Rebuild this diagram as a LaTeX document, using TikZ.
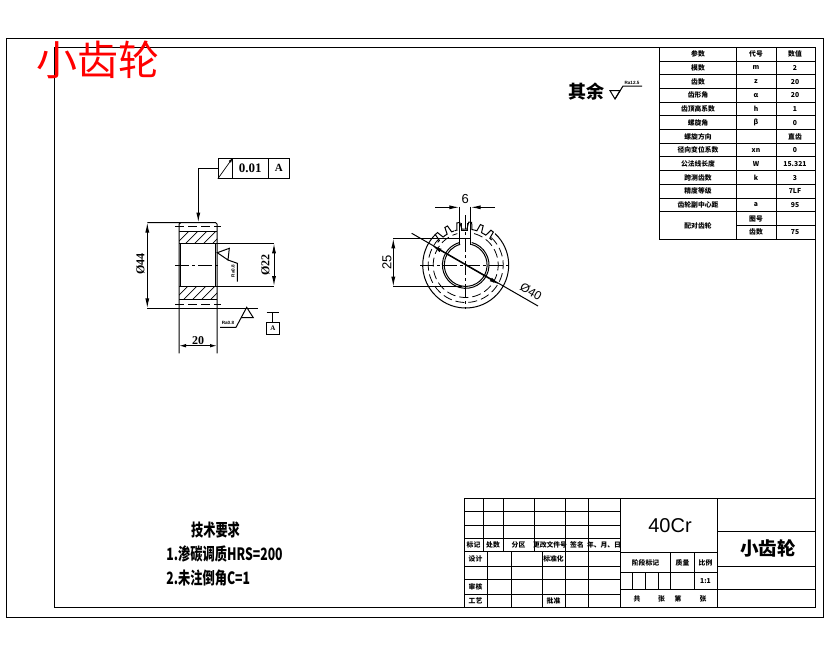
\documentclass[tikz,border=0pt]{standalone}
\usepackage{fontspec}
\setmainfont{Liberation Serif}
\newfontfamily\cjk{Noto Sans CJK SC}
\newfontfamily\arial{Liberation Sans}
\usetikzlibrary{arrows.meta,calc}

\begin{document}
\begin{tikzpicture}[x=1pt,y=-1pt,line width=1pt,
				cell/.style={font=\cjk\bfseries\fontsize{6.8}{7}\selectfont, inner sep=0pt},
				block/.style={font=\cjk\bfseries\fontsize{6.8}{7}\selectfont, inner sep=0pt},
				note/.style={font=\cjk\bfseries\fontsize{17}{18}\selectfont, inner sep=0pt, anchor=west, xscale=.72, transform shape},
				dim/.style={font=\bfseries\fontsize{12}{13}\selectfont, inner sep=0pt},
				dimsans/.style={font=\arial\fontsize{13}{14}\selectfont, inner sep=0pt},
				rough/.style={font=\arial\bfseries\fontsize{4.6}{5}\selectfont, inner sep=0pt},
				tip/.style={-{Latex[length=10pt,width=4pt]}},
				tips/.style={{Latex[length=10pt,width=4pt]}-{Latex[length=10pt,width=4pt]}},
				center line/.style={dash pattern=on 14pt off 3pt on 3pt off 3pt, line width=.8pt},
				hidden/.style={dash pattern=on 9pt off 4pt, line width=.8pt}
			]
			\useasboundingbox (0,0) rectangle (830,654);
			\fill[white] (0,0) rectangle (830,654);
			
			\coordinate (c_gear) at (465.7,265);
			
			\draw (6,38.5) rectangle (823.5,617);
			\draw (54.3,47.3) rectangle (815,607.3);
			
			\node[font=\cjk\fontsize{41}{43}\selectfont, text=red, inner sep=0pt] (t_title) at (97.5,60) {小齿轮};
			
			\draw (659.5,47.3) rectangle (815,239.3);
			\foreach \i in {1,...,12} \draw (659.5,{47.3+13.71*\i}) -- (815,{47.3+13.71*\i});
			\draw (736.7,{47.3+13.71*13}) -- (815,{47.3+13.71*13});
			\draw (736.7,47.3) -- (736.7,239.3);
			\draw (776,47.3) -- (776,239.3);
			\foreach \i/\a/\b/\c in {0/参数/代号/数值,1/模数/m/2,2/齿数/z/20,3/齿形角/α/20,4/齿顶高系数/h/1,5/螺旋角/β/0,6/螺旋方向//直齿,7/径向变位系数/xn/0,8/公法线长度/W/15.321,9/跨测齿数/k/3,10/精度等级//7LF,11/齿轮副中心距/a/95}
				{
				\node[cell] (a_\i) at (698,{47.3+13.71*(\i+.5)}) {\a};
				\node[cell] (b_\i) at (756,{47.3+13.71*(\i+.5)}) {\b};
				\node[cell] (v_\i) at (795,{47.3+13.71*(\i+.5)}) {\c};
				}
			\node[cell] (a_12) at (698,{47.3+13.71*13}) {配对齿轮};
			\node[cell] (b_12) at (756,{47.3+13.71*12.5}) {图号};
			\node[cell] (b_13) at (756,{47.3+13.71*13.5}) {齿数};
			\node[cell] (v_13) at (795,{47.3+13.71*13.5}) {75};
			
			\node[font=\cjk\bfseries\fontsize{18}{19}\selectfont, inner sep=0pt] (t_rest) at (586,92) {其余};
			\draw (610,90.7) -- (620,90.7) -- (615,99) -- cycle;
			\draw (615,99) -- (623,86) -- (642,86);
			\node[rough] (t_rest_ra) at (632,82.5) {Ra12.5};
			
			\node[draw, minimum width=14pt, minimum height=20pt, inner sep=0pt] (f_sym) at (225.3,168.3) {};
			\node[draw, minimum width=36pt, minimum height=20pt, inner sep=0pt, font=\bfseries\fontsize{13}{14}\selectfont] (f_val) at (250.3,168.3) {0.01};
			\node[draw, minimum width=21pt, minimum height=20pt, inner sep=0pt, font=\bfseries\fontsize{11}{12}\selectfont] (f_dat) at (278.8,168.3) {A};
			\draw[-{Latex[length=5pt,width=3pt]}, line width=.7pt] (f_sym.south west) -- (f_sym.north east);
			\coordinate (f_top) at (198.3,222.5);
			\draw[tip] (f_sym.west) -| (f_top);
			
			\draw (147.3,222.5) -- (215.5,222.5) -- (217,224) -- (217,353.3);
			\draw (181,222.5) -- (179,224) -- (179,353.3);
			\draw (147.3,308.3) -- (258,308.3);
			\draw (179,231.7) -- (217,231.7);
			\draw (179,243.3) -- (274,243.3);
			\draw (179,286) -- (274,286);
			\draw (179,299) -- (217,299);
			\draw (180.7,243.3) -- (180.7,286);
			\draw (215.3,243.3) -- (215.3,286);
			\draw[hidden] (175,226.7) -- (221,226.7);
			\draw[hidden] (175,304.3) -- (221,304.3);
			\draw[center line] (175,265) -- (221,265);
			\begin{scope}[line width=.7pt]
				\clip (179,231.7) rectangle (217,243.3);
				\foreach \i in {0,...,6} \draw ({176+9*\i},244) -- ({190+9*\i},230);
			\end{scope}
			\begin{scope}[line width=.7pt]
				\clip (179,286) rectangle (217,299);
				\foreach \i in {0,...,6} \draw ({174+9*\i},300) -- ({190+9*\i},284);
			\end{scope}
			
			\coordinate (d44_a) at (147.3,222.5);
			\coordinate (d44_b) at (147.3,308.3);
			\draw[tips] (d44_a) -- (d44_b);
			\node[dim, rotate=90] (t_d44) at (140.5,264) {Ø44};
			\coordinate (d22_a) at (274,243.3);
			\coordinate (d22_b) at (274,286);
			\draw[tips] (d22_a) -- (d22_b);
			\node[dim, rotate=90] (t_d22) at (265.5,265) {Ø22};
			\coordinate (d20_a) at (179,345.7);
			\coordinate (d20_b) at (217,345.7);
			\draw[{Latex[length=7pt,width=3.5pt]}-{Latex[length=7pt,width=3.5pt]}] (d20_a) -- (d20_b);
			\node[dim] (t_d20) at (198,340.5) {20};
			
			\draw (217.3,252.7) -- (229.3,248.3) -- (228,260) -- cycle;
			\draw (228,260) -- (237.3,263.3) -- (237.3,281.7);
			\node[rough, rotate=90] (t_bore_ra) at (233,271) {Ra0.8};
			
			\draw (220,327.3) -- (236,327.3) -- (246.7,307.3) -- (253.3,317.7) -- (241.7,317.7);
			\node[rough] (t_side_ra) at (228,322.5) {Ra0.8};
			
			\node[draw, minimum width=12.5pt, minimum height=11.5pt, inner sep=0pt, font=\bfseries\fontsize{7}{7}\selectfont] (datum) at (272.8,328.3) {A};
			\draw (266.7,312.3) -- (279,312.3);
			\coordinate (datum_top) at (272.8,312.3);
			\draw (datum_top) -- (datum.north);
			
			\draw[center line] (420,265) -- (511,265);
			\draw[center line] (465.7,215) -- (465.7,309);
			\draw (c_gear) ++(47:43pt) arc[start angle=47, end angle=-225, radius=43pt];
			\draw[hidden] (c_gear) ++(47:37.5pt) arc[start angle=47, end angle=-225, radius=37.5pt];
			\draw[hidden] (c_gear) ++(75:32.5pt) arc[start angle=75, end angle=-255, radius=32.5pt];
			\foreach \a in {52,68,84,100,117,133}
				\draw ($(c_gear)+(\a+8:36pt)$) -- ($(c_gear)+(\a+4:36pt)$) -- ($(c_gear)+(\a+2:43pt)$) -- ($(c_gear)+(\a-2:43pt)$) -- ($(c_gear)+(\a-4:36pt)$) -- ($(c_gear)+(\a-8:36pt)$);
			\draw (c_gear) ++(75:23.3pt) arc[start angle=75, end angle=-255, radius=23.3pt];
			\draw (c_gear) ++(75:21.4pt) arc[start angle=75, end angle=-255, radius=21.4pt];
			\draw (459.3,206.7) -- (459.3,245);
			\draw (470.7,206.7) -- (470.7,245);
			\draw (393.3,238.3) -- (470.7,238.3);
			\draw (393.3,286.7) -- (462,286.7);
			\draw (461.7,223) -- (461.7,230) -- (467.3,230) -- (467.3,223);
			
			\coordinate (d6_a) at (459.3,207.3);
			\coordinate (d6_b) at (470.7,207.3);
			\draw[tip] (435,207.3) -- (d6_a);
			\draw[tip] (495,207.3) -- (d6_b);
			\node[dimsans] (t_d6) at (465.3,199.5) {6};
			\coordinate (d25_a) at (393.3,238.3);
			\coordinate (d25_b) at (393.3,286.7);
			\draw[tips] (d25_a) -- (d25_b);
			\node[dimsans, rotate=90] (t_d25) at (387,262.5) {25};
			\coordinate (d40_a) at (431.9,245.5);
			\coordinate (d40_b) at (499.5,284.5);
			\draw (411.7,233.3) -- (538,306);
			\draw[tips] (d40_a) -- (d40_b);
			\node[font=\arial\fontsize{12}{13}\selectfont, inner sep=0pt, rotate=-30] (t_d40) at (531,291.5) {Ø40};
			
			\node[note, anchor=center] (t_tech) at (215.5,530) {技术要求};
			\node[note] (t_req_1) at (166,554) {1.渗碳调质HRS=200};
			\node[note] (t_req_2) at (166,578) {2.未注倒角C=1};
			
			\draw (464,498.3) -- (815,498.3);
			\foreach \y in {511.7,525,538.3,551.7,566.7,579.3,594} \draw (464,\y) -- (620,\y);
			\draw (464,498.3) -- (464,607.3);
			\foreach \x in {483.3,503.3,534.3,565.3,588.3} \draw (\x,498.3) -- (\x,551.7);
			\foreach \x in {487.3,511.7,542.3,565.3,588.3} \draw (\x,551.7) -- (\x,607.3);
			\draw (620,498.3) -- (620,607.3);
			\draw (717.3,498.3) -- (717.3,607.3);
			\draw (717.3,531.3) -- (815,531.3);
			\draw (620,552.3) -- (717.3,552.3);
			\draw (717.3,566.3) -- (815,566.3);
			\draw (620,572.3) -- (717.3,572.3);
			\draw (620,589.3) -- (815,589.3);
			\foreach \x in {632.3,645.7,658.3} \draw (\x,572.3) -- (\x,589.3);
			\draw (670.7,552.3) -- (670.7,589.3);
			\draw (694.3,552.3) -- (694.3,589.3);
			
			\foreach \x/\s in {473.5/标记,493/处数,518.5/分区,550/更改文件号,577/签名,604/年、月、日}
				\node[block] (h_\s) at (\x,545) {\s};
			\node[block] (r_design) at (475.5,559) {设计};
			\node[block] (r_std) at (553.5,559) {标准化};
			\node[block] (r_check) at (475.5,586.5) {审核};
			\node[block] (r_craft) at (475.5,600.5) {工艺};
			\node[block] (r_appr) at (553.5,600.5) {批准};
			
			\node[font=\arial\fontsize{20}{21}\selectfont, inner sep=0pt] (t_mat) at (670,526) {40Cr};
			\node[font=\cjk\bfseries\fontsize{18.5}{20}\selectfont, inner sep=0pt] (t_name) at (768,548) {小齿轮};
			\node[block] (m_stage) at (645.5,562.5) {阶段标记};
			\node[block] (m_mass) at (682.5,562.5) {质量};
			\node[block] (m_ratio) at (705.5,562.5) {比例};
			\node[block] (m_scale) at (705.5,581) {1:1};
			\node[block] (s_1) at (637,598.5) {共};
			\node[block] (s_2) at (661.5,598.5) {张};
			\node[block] (s_3) at (678,598.5) {第};
			\node[block] (s_4) at (703,598.5) {张};
		\end{tikzpicture}
\end{document}
